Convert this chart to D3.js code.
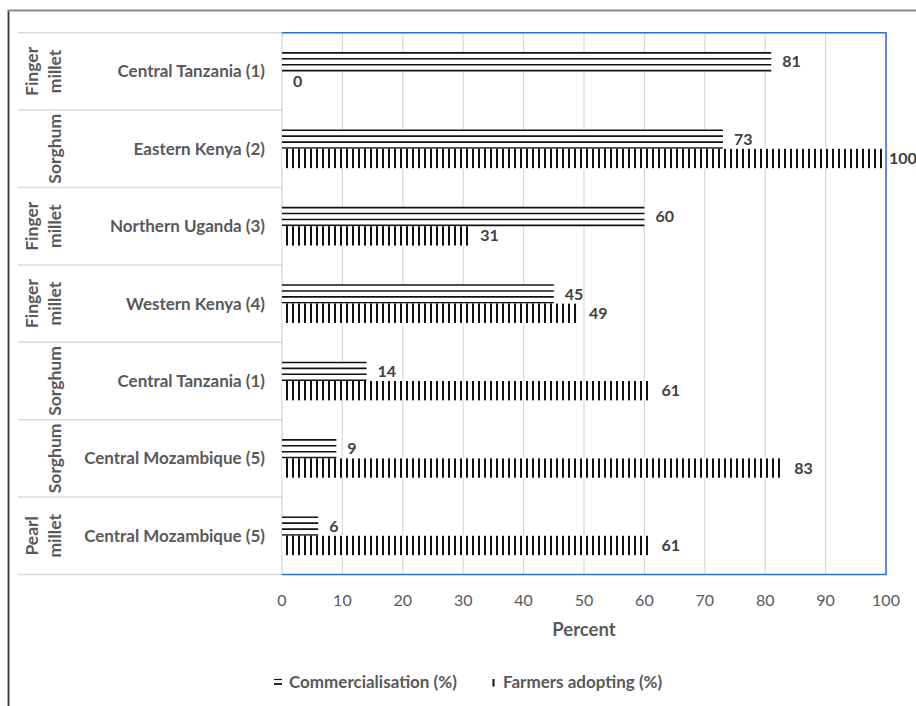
<!DOCTYPE html>
<html><head><meta charset="utf-8">
<script src="https://cdn.jsdelivr.net/npm/d3@7/dist/d3.min.js"></script>
<style>body{margin:0;background:#fff}svg{display:block}</style>
</head><body><svg id="c" width="916" height="706"></svg>
<script>
const crops = ["Finger millet","Sorghum","Finger millet","Finger millet","Sorghum","Sorghum","Pearl millet"];
const regions = ["Central Tanzania (1)","Eastern Kenya (2)","Northern Uganda (3)","Western Kenya (4)","Central Tanzania (1)","Central Mozambique (5)","Central Mozambique (5)"];
const commercialisation = [81,73,60,45,14,9,6];
const adopting = [0,100,31,49,61,83,61];
const seriesNames = ["Commercialisation (%)","Farmers adopting (%)"];
const xTicks = [0,10,20,30,40,50,60,70,80,90,100];
const axisTitle = "Percent";

const FONT = "Lato, 'Open Sans', sans-serif";
const GRAY = "#595959";
const svg = d3.select("#c").style("font-family", FONT);

// outer chart frame
svg.append("line").attr("x1",8.5).attr("x2",8.5).attr("y1",10).attr("y2",706).attr("stroke","#333").attr("stroke-width",1.8);
svg.append("line").attr("x1",8).attr("x2",916).attr("y1",10.5).attr("y2",10.5).attr("stroke","#8a8a8a").attr("stroke-width",1.8);

const x = d3.scaleLinear().domain([0,100]).range([282,886]);
const y = d3.scaleBand().domain(d3.range(regions.length)).range([32.7,574.5]).padding(0);
const sub = d3.scaleBand().domain([0,1]).range([0,y.bandwidth()]).paddingInner(0).paddingOuter(1);

const defs = svg.append("defs");
const pat = defs.append("pattern").attr("id","vlines").attr("patternUnits","userSpaceOnUse")
  .attr("x",x(0)).attr("y",0).attr("width",6).attr("height",10);
pat.append("rect").attr("width",6).attr("height",10).attr("fill","#fff");
pat.append("rect").attr("x",4).attr("width",2).attr("height",10).attr("fill","#111");

const [y0,y1] = y.range();
// gridlines
svg.append("g").selectAll("line").data(xTicks.filter(t=>t>0 && t<100)).join("line")
  .attr("x1",d=>x(d)).attr("x2",d=>x(d)).attr("y1",y0).attr("y2",y1)
  .attr("stroke","#d9d9d9").attr("stroke-width",1.2);

// category separators (multi-level axis)
const bounds = d3.range(regions.length+1).map(i => i<regions.length ? y(i) : y1);
svg.append("g").selectAll("line").data(bounds).join("line")
  .attr("x1",18).attr("x2",x(0)).attr("y1",d=>d).attr("y2",d=>d)
  .attr("stroke","#d9d9d9").attr("stroke-width",1.5);
// left axis line
svg.append("line").attr("x1",x(0)).attr("x2",x(0)).attr("y1",y0).attr("y2",y1).attr("stroke","#d0d0d0").attr("stroke-width",1.2);

// bars
const rows = svg.append("g").selectAll("g").data(d3.range(regions.length)).join("g")
  .attr("transform", i => `translate(0,${y(i)})`);
const h = sub.bandwidth();
rows.each(function(i){
  const g = d3.select(this);
  const v = commercialisation[i];
  const top = sub(0);
  if (v > 0) {
    g.append("rect").attr("x",x(0)).attr("y",top).attr("width",x(v)-x(0)).attr("height",h).attr("fill","#fff");
    g.selectAll("line.h").data(d3.range(4)).join("line").attr("class","h")
      .attr("x1",x(0)).attr("x2",x(v))
      .attr("y1",k=>top+0.8+k*(h-1.6)/3).attr("y2",k=>top+0.8+k*(h-1.6)/3)
      .attr("stroke","#111").attr("stroke-width",1.6);
  }
  const a = adopting[i];
  if (a > 0) {
    g.append("rect").attr("x",x(0)).attr("y",sub(1)).attr("width",x(a)-x(0)).attr("height",h).attr("fill","url(#vlines)");
  }
  const lx = v => Math.min(x(v)+11, x.range()[1]+3);
  g.append("text").attr("x",lx(v)).attr("y",sub(0)+h/2).attr("dy","0.35em")
    .attr("font-size",16).attr("font-weight","bold").attr("fill","#404040").text(v);
  g.append("text").attr("x",lx(a)).attr("y",sub(1)+h/2).attr("dy","0.35em")
    .attr("font-size",16).attr("font-weight","bold").attr("fill","#404040").text(a);
  g.append("text").attr("x",265).attr("y",y.bandwidth()/2).attr("dy","0.35em").attr("text-anchor","end")
    .attr("font-size",17).attr("font-weight","bold").attr("fill",GRAY).text(regions[i]);
  const words = crops[i].split(" ");
  const cg = g.append("g").attr("transform",`translate(61,${y.bandwidth()/2}) rotate(-90)`);
  words.forEach((w,j) => {
    cg.append("text").attr("x",0).attr("y",-(words.length-1-j)*23).attr("text-anchor","middle")
      .attr("font-size",17.5).attr("font-weight","bold").attr("fill",GRAY).text(w);
  });
});

// plot area border (blue)
svg.append("path").attr("d",`M${x(0)},${y0}H${x(100)}V${y1}H${x(0)}`)
  .attr("fill","none").attr("stroke","#2f6ecf").attr("stroke-width",1.6);

// x axis tick labels
svg.append("g").selectAll("text").data(xTicks).join("text")
  .attr("x",d=>x(d)).attr("y",600).attr("dy","0.35em").attr("text-anchor","middle")
  .attr("font-size",16).attr("fill",GRAY).text(d=>d);
svg.append("text").attr("x",(x(0)+x(100))/2).attr("y",630).attr("dy","0.35em").attr("text-anchor","middle")
  .attr("font-size",18.5).attr("font-weight","bold").attr("fill",GRAY).text(axisTitle);

// legend
const ly = 682;
svg.append("line").attr("x1",274).attr("x2",282).attr("y1",ly-2.5).attr("y2",ly-2.5).attr("stroke","#111").attr("stroke-width",1.2);
svg.append("line").attr("x1",274).attr("x2",282).attr("y1",ly+2).attr("y2",ly+2).attr("stroke","#111").attr("stroke-width",1.8);
svg.append("text").attr("x",289).attr("y",ly).attr("dy","0.35em").attr("font-size",17).attr("font-weight","bold").attr("fill",GRAY).text(seriesNames[0]);
svg.append("rect").attr("x",492.5).attr("y",ly-3).attr("width",2).attr("height",7.5).attr("fill","#111");
svg.append("text").attr("x",503).attr("y",ly).attr("dy","0.35em").attr("font-size",17).attr("font-weight","bold").attr("fill",GRAY).text(seriesNames[1]);
</script>
</body></html>
